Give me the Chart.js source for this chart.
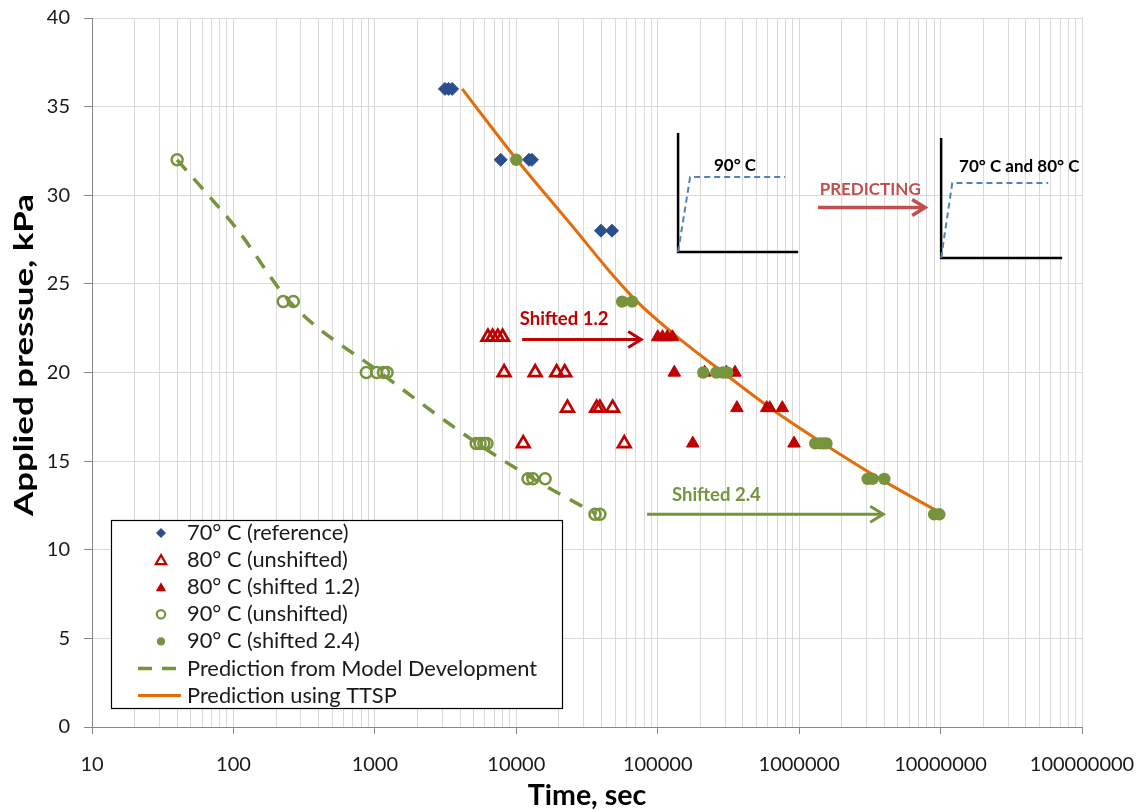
<!DOCTYPE html>
<html>
<head>
<meta charset="utf-8">
<script src="https://cdn.jsdelivr.net/npm/chart.js@4/dist/chart.umd.min.js"></script>
<style>
html,body{margin:0;padding:0;background:#fff;}
#wrap{width:1141px;height:810px;position:relative;}
</style>
</head>
<body>
<div id="wrap"><canvas id="c" width="1141" height="810"></canvas></div>
<script>
// ---------- tick labels ----------
const xTickValues = [10, 100, 1000, 10000, 100000, 1000000, 10000000, 100000000];
const xTickLabels = ['10', '100', '1000', '10000', '100000', '1000000', '10000000', '100000000'];
const yTickValues = [0, 5, 10, 15, 20, 25, 30, 35, 40];

// ---------- series (time in sec, pressure in kPa) ----------
const t70 = [3130, 3320, 3520, 7760, 12300, 12900, 39700, 47500];
const p70 = [36, 36, 36, 32, 32, 32, 28, 28];

const t80u = [6300, 6800, 7400, 8000, 8200, 13600, 19300, 22000, 23000, 37000, 39000, 48000, 11200, 58000];
const p80u = [22, 22, 22, 22, 20, 20, 20, 20, 18, 18, 18, 18, 16, 16];

const t80s = [100000, 108000, 117000, 127000, 131000, 215000, 306000, 352000, 363000, 590000, 620000, 760000, 177000, 920000];
const p80s = [22, 22, 22, 22, 20, 20, 20, 20, 18, 18, 18, 18, 16, 16];

const t90u = [40, 225, 265, 870, 1030, 1150, 1220, 5200, 5550, 5900, 6200, 12100, 13100, 16000, 36000, 39000];
const p90u = [32, 24, 24, 20, 20, 20, 20, 16, 16, 16, 16, 14, 14, 14, 12, 12];

const t90s = [10000, 56000, 66000, 210000, 260000, 290000, 310000, 1300000, 1400000, 1480000, 1560000, 3050000, 3300000, 4000000, 9000000, 9800000];
const p90s = [32, 24, 24, 20, 20, 20, 20, 16, 16, 16, 16, 14, 14, 14, 12, 12];

const tModel = [40, 108, 250, 1090, 5300, 13200, 37000];
const pModel = [32, 28, 24, 20, 16, 14, 12];

const tTTSP = [4140, 10100, 26500, 44600, 71500, 138000, 290000, 624000, 1480000, 3740000, 10400000];
const pTTSP = [36, 32, 28, 25.8, 24, 22, 20, 18, 16, 14, 12];

const seriesLabels = [
  '70° C (reference)',
  '80° C (unshifted)',
  '80° C (shifted 1.2)',
  '90° C (unshifted)',
  '90° C (shifted 2.4)',
  'Prediction from Model Development',
  'Prediction using TTSP'
];

// ---------- styling ----------
const FONT = 'Lato, "Open Sans", "DejaVu Sans", sans-serif';
const BLUE = '#2a4f8c', RED = '#c00000', GREEN = '#77933c', ORANGE = '#e46c0a';

function pts(ts, ps) { return ts.map((t, i) => ({ x: t, y: ps[i] })); }

// annotations placed in data coordinates (time, pressure)
const annotations = {
  texts: [
    { text: 'Shifted 1.2', x: 21800, y: 23.0, color: RED, size: 18.5 },
    { text: 'Shifted 2.4', x: 260000, y: 13.1, color: GREEN, size: 18.5 },
    { text: '90° C', x: 352000, y: 31.7, color: '#000', size: 17 },
    { text: 'PREDICTING', x: 3180000, y: 30.3, color: '#c0504d', size: 17 },
    { text: '70° C and 80° C', x: 36000000, y: 31.6, color: '#000', size: 17 }
  ],
  arrows: [
    { x1: 11000, x2: 76400, y: 21.86, color: RED, width: 3 },
    { x1: 84100, x2: 3930000, y: 12.0, color: GREEN, width: 3 },
    { x1: 1360000, x2: 7780000, y: 29.31, color: '#c0504d', width: 3.5 }
  ],
  insets: [
    { x0: 139300, x1: 984000, yTop: 33.51, yBot: 26.8, rampX: 169500, rampY: 31.03, flatEnd: 796000 },
    { x0: 10090000, x1: 72400000, yTop: 33.23, yBot: 26.46, rampX: 12100000, rampY: 30.69, flatEnd: 57700000 }
  ]
};

function drawMarker(ctx, style, x, y, r, fill, stroke, bw) {
  ctx.save();
  ctx.beginPath();
  if (style === 'rectRot') {
    ctx.moveTo(x, y - r); ctx.lineTo(x + r, y); ctx.lineTo(x, y + r); ctx.lineTo(x - r, y);
  } else if (style === 'triangle') {
    const h = Math.sqrt(3) / 2 * r;
    ctx.moveTo(x, y - r); ctx.lineTo(x + h, y + r / 2); ctx.lineTo(x - h, y + r / 2);
  } else {
    ctx.arc(x, y, r, 0, Math.PI * 2);
  }
  ctx.closePath();
  if (fill && fill !== 'transparent') { ctx.fillStyle = fill; ctx.fill(); }
  if (bw > 0) { ctx.lineWidth = bw; ctx.strokeStyle = stroke; ctx.stroke(); }
  ctx.restore();
}

const extras = {
  id: 'extras',
  afterDraw(chart) {
    const ctx = chart.ctx;
    const xs = chart.scales.x, ys = chart.scales.y;
    const px = v => xs.getPixelForValue(v), py = v => ys.getPixelForValue(v);

    // y-axis title (stretched along its length to match the reference span)
    ctx.save();
    ctx.font = 'bold 26px ' + FONT;
    const title = 'Applied pressue, kPa';
    const w = ctx.measureText(title).width;
    ctx.translate(33, 355);
    ctx.rotate(-Math.PI / 2);
    ctx.scale(322 / w, 1);
    ctx.fillStyle = '#000';
    ctx.textAlign = 'center';
    ctx.textBaseline = 'alphabetic';
    ctx.fillText(title, 0, 0);
    ctx.restore();

    // inset diagrams
    annotations.insets.forEach(s => {
      ctx.save();
      ctx.strokeStyle = '#000'; ctx.lineWidth = 2.5; ctx.lineCap = 'butt';
      ctx.beginPath();
      ctx.moveTo(px(s.x0), py(s.yTop)); ctx.lineTo(px(s.x0), py(s.yBot)); ctx.lineTo(px(s.x1), py(s.yBot));
      ctx.stroke();
      ctx.strokeStyle = '#4f81bd'; ctx.lineWidth = 2; ctx.setLineDash([6, 4]);
      ctx.beginPath();
      ctx.moveTo(px(s.x0), py(s.yBot)); ctx.lineTo(px(s.rampX), py(s.rampY)); ctx.lineTo(px(s.flatEnd), py(s.rampY));
      ctx.stroke();
      ctx.restore();
    });

    // arrows
    annotations.arrows.forEach(a => {
      const x1 = px(a.x1), x2 = px(a.x2), y = py(a.y);
      ctx.save();
      ctx.strokeStyle = a.color; ctx.lineWidth = a.width; ctx.lineCap = 'butt'; ctx.lineJoin = 'miter';
      ctx.beginPath(); ctx.moveTo(x1, y); ctx.lineTo(x2 - 1, y); ctx.stroke();
      ctx.beginPath(); ctx.moveTo(x2 - 13, y - 8); ctx.lineTo(x2, y); ctx.lineTo(x2 - 13, y + 8); ctx.stroke();
      ctx.restore();
    });

    // texts
    annotations.texts.forEach(t => {
      ctx.save();
      ctx.font = 'bold ' + t.size + 'px ' + FONT;
      ctx.fillStyle = t.color; ctx.textAlign = 'center'; ctx.textBaseline = 'middle';
      ctx.fillText(t.text, px(t.x), py(t.y));
      ctx.restore();
    });

    // legend
    const L = 111, T = 520, R = 562, B = 708;
    ctx.save();
    ctx.fillStyle = '#fff'; ctx.fillRect(L, T, R - L, B - T);
    ctx.strokeStyle = '#000'; ctx.lineWidth = 1.2; ctx.strokeRect(L + 0.5, T + 0.5, R - L, B - T);
    ctx.restore();
    chart.data.datasets.forEach((ds, i) => {
      const y = 533 + i * 27.1;
      if (ds.showLine) {
        ctx.save();
        ctx.strokeStyle = ds.borderColor; ctx.lineWidth = ds.borderWidth;
        if (ds.borderDash) ctx.setLineDash([14, 10]);
        ctx.beginPath(); ctx.moveTo(138, y); ctx.lineTo(181, y); ctx.stroke();
        ctx.restore();
      } else {
        const r = ds.pointStyle === 'triangle' ? 6 : (ds.pointStyle === 'rectRot' ? 5 : 4.2);
        drawMarker(ctx, ds.pointStyle, 161, y + (ds.pointStyle === 'triangle' ? 1 : 0), r, ds.backgroundColor, ds.borderColor, ds.backgroundColor === 'transparent' ? 2.2 : 0);
      }
      ctx.save();
      ctx.font = '21.8px ' + FONT; ctx.fillStyle = '#1a1a1a';
      ctx.textAlign = 'left'; ctx.textBaseline = 'middle';
      ctx.fillText(ds.label, 187, y);
      ctx.restore();
    });
  }
};

const chart = new Chart(document.getElementById('c'), {
  type: 'scatter',
  data: {
    datasets: [
      { label: seriesLabels[0], data: pts(t70, p70), pointStyle: 'rectRot', pointRadius: 6.5, backgroundColor: BLUE, borderColor: BLUE, borderWidth: 1, order: 5 },
      { label: seriesLabels[1], data: pts(t80u, p80u), pointStyle: 'triangle', pointRadius: 7.3, backgroundColor: 'transparent', borderColor: RED, borderWidth: 2.7, order: 4 },
      { label: seriesLabels[2], data: pts(t80s, p80s), pointStyle: 'triangle', pointRadius: 7.3, backgroundColor: RED, borderColor: RED, borderWidth: 1, order: 3 },
      { label: seriesLabels[3], data: pts(t90u, p90u), pointStyle: 'circle', pointRadius: 5.5, backgroundColor: 'transparent', borderColor: GREEN, borderWidth: 2.5, order: 2 },
      { label: seriesLabels[4], data: pts(t90s, p90s), pointStyle: 'circle', pointRadius: 6.2, backgroundColor: GREEN, borderColor: GREEN, borderWidth: 0, order: 1 },
      { label: seriesLabels[5], data: pts(tModel, pModel), showLine: true, borderColor: GREEN, backgroundColor: GREEN, borderWidth: 3.5, borderDash: [14, 11], pointRadius: 0, cubicInterpolationMode: 'monotone', order: 7 },
      { label: seriesLabels[6], data: pts(tTTSP, pTTSP), showLine: true, borderColor: ORANGE, backgroundColor: ORANGE, borderWidth: 3, pointRadius: 0, cubicInterpolationMode: 'monotone', order: 6 }
    ]
  },
  options: {
    responsive: false,
    animation: false,
    devicePixelRatio: 1,
    events: [],
    layout: { padding: { left: 12, right: 59, top: 18, bottom: 0 } },
    plugins: { legend: { display: false }, tooltip: { enabled: false } },
    scales: {
      x: {
        type: 'logarithmic', position: 'bottom', min: 10, max: 100000000,
        afterBuildTicks: s => {
          const arr = [];
          xTickValues.forEach((v, i) => {
            arr.push({ value: v, major: true });
            if (i < xTickValues.length - 1) for (let m = 2; m < 10; m++) arr.push({ value: v * m, major: false });
          });
          s.ticks = arr;
        },
        ticks: {
          autoSkip: false, maxRotation: 0, minRotation: 0, padding: 19, color: '#1a1a1a',
          font: { family: FONT, size: 20 },
          callback: (v, i, ticks) => { const k = xTickValues.indexOf(ticks[i].value); return k >= 0 ? xTickLabels[k] : ''; }
        },
        grid: {
          color: '#d9d9d9', lineWidth: 1, tickLength: 7,
          tickColor: c => (c.tick && c.tick.major) ? '#868686' : 'rgba(0,0,0,0)'
        },
        border: { color: '#868686', width: 1 },
        title: { display: true, text: 'Time, sec', color: '#000', padding: 0, font: { family: FONT, size: 28.5, weight: 'bold', lineHeight: 1.0 } },
        afterFit: s => { s.height = 83; s.paddingLeft = 0; s.paddingRight = 0; }
      },
      y: {
        min: 0, max: 40,
        afterBuildTicks: s => { s.ticks = yTickValues.map(v => ({ value: v })); },
        ticks: { padding: 14, color: '#1a1a1a', font: { family: FONT, size: 20 } },
        grid: { color: '#d9d9d9', lineWidth: 1, tickLength: 8, tickColor: '#868686' },
        border: { color: '#868686', width: 1 },
        afterFit: s => { s.width = 80; s.paddingTop = 0; s.paddingBottom = 0; }
      }
    }
  },
  plugins: [extras]
});
</script>
</body>
</html>
